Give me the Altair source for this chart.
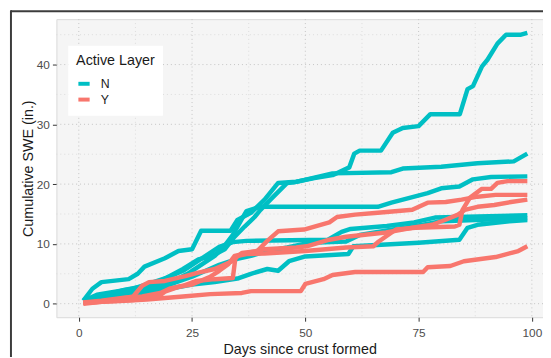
import altair as alt
import pandas as pd

# ---- data (days since crust formed, cumulative SWE) ----
t1_days = [1, 3, 5, 11, 13, 14.5, 19, 22, 25, 27, 33.5, 35, 38, 41, 44, 48, 52, 56, 59.7, 60.8, 62, 66.7, 69.3, 71.5, 75, 77.6, 84.1, 85.8, 87, 89, 90.2, 92.4, 94.3, 97.6, 99]
t1_vals = [0.5, 2.5, 3.6, 4.1, 5.0, 6.2, 7.6, 8.8, 9.1, 12.2, 12.2, 14.0, 15.2, 17.4, 20.2, 20.4, 21.0, 21.5, 22.8, 25.1, 25.6, 25.6, 28.6, 29.4, 29.7, 31.7, 31.7, 35.9, 36.4, 39.7, 40.8, 43.5, 45.0, 45.0, 45.3]

t2_days = [1, 5, 10, 15, 18, 20, 23, 26.4, 29.2, 32.2, 34.4, 36.6, 38.8, 40.1, 42.3, 44.4, 46, 47.5, 56, 69, 71.5, 80, 88, 96, 99]
t2_vals = [0.3, 1.2, 2.3, 3.0, 3.8, 4.6, 5.8, 7.4, 7.9, 9.1, 11.2, 12.9, 14.5, 15.7, 17.4, 19.0, 20.2, 20.3, 21.8, 22.0, 22.6, 22.9, 23.5, 23.8, 25.1]

t3_days = [1, 5, 10, 15, 20, 24, 27, 30, 32, 34, 35.5, 37, 40, 66, 69, 73, 77, 80, 84, 87, 91, 99]
t3_vals = [0.3, 1.0, 1.8, 2.5, 3.5, 5.0, 6.5, 8.0, 9.5, 11.5, 13.5, 15.5, 16.2, 16.2, 16.9, 17.7, 18.5, 19.3, 19.6, 20.8, 21.2, 21.3]

t4_days = [1, 4, 8, 12, 16, 20, 23, 26, 29, 31, 34, 37, 55, 58, 60, 68, 74, 78.6, 99]
t4_vals = [0.5, 1.5, 2.0, 2.5, 3.5, 4.5, 5.5, 7.0, 8.5, 9.5, 10.3, 10.5, 10.7, 12.0, 12.5, 13.0, 13.6, 14.4, 14.8]

t5_days = [1, 5, 10, 15, 20, 25, 28, 31, 35, 38, 41.6, 46, 51, 59, 62, 70, 76, 80, 99]
t5_vals = [0.3, 0.8, 1.5, 2.2, 3.2, 4.5, 5.5, 6.5, 7.5, 8.0, 8.8, 9.4, 10.2, 10.4, 11.5, 12.5, 13.2, 13.8, 14.3]

t6_days = [1, 5, 10, 15, 20, 25, 30, 35, 38, 41.6, 44, 46.4, 50, 59.5, 60.6, 75, 84, 85.8, 88, 95, 99]
t6_vals = [0.2, 0.6, 1.0, 1.8, 2.5, 3.2, 3.6, 4.2, 5.0, 5.8, 5.5, 7.1, 7.9, 8.3, 9.6, 10.2, 10.7, 12.7, 13.2, 13.8, 14.0]

s1_days = [1, 8, 15, 23, 29, 36, 38, 49, 50, 54, 56, 61, 76, 77, 82, 85, 92, 97, 99]
s1_vals = [0.2, 0.4, 0.7, 1.2, 1.6, 1.8, 2.1, 2.1, 3.3, 4.1, 4.8, 5.3, 5.3, 6.1, 6.3, 7.1, 7.8, 8.8, 9.6]

s2_days = [1, 5, 10, 14, 18, 20, 23, 26, 30, 34, 34.6, 37, 41, 50, 59, 65, 66.2, 70, 74.3, 83, 84, 84.7, 86.3, 88.9, 91, 92.4, 94.6, 99]
s2_vals = [0.2, 0.5, 1.0, 1.2, 1.8, 2.5, 3.0, 3.8, 4.1, 4.3, 7.9, 8.3, 8.4, 8.8, 9.4, 9.6, 10.4, 12.4, 12.7, 12.9, 13.2, 15.7, 17.7, 19.2, 19.2, 20.2, 20.5, 20.5]

s3_days = [1, 7, 12, 14, 15.5, 19, 23.5, 26.4, 30, 33.6, 36, 39.4, 41.6, 44, 49.7, 55.3, 57, 61, 66, 73.6, 77, 81, 84.5, 88, 92, 99]
s3_vals = [0.0, 0.5, 1.2, 3.0, 3.6, 3.8, 4.6, 5.2, 5.8, 7.0, 8.5, 8.8, 10.5, 12.1, 12.4, 13.6, 14.5, 14.9, 15.2, 15.7, 16.9, 17.0, 17.4, 17.9, 18.2, 18.2]

s4_days = [1, 6, 12, 17.6, 19, 22, 25, 29, 31, 33, 34.4, 38, 41, 48, 50.3, 55.3, 59, 67.8, 73.6, 78, 80.8, 83.7, 85.2, 88, 91.7, 95.4, 99]
s4_vals = [0.1, 0.4, 0.6, 1.2, 2.0, 2.8, 3.2, 4.5, 5.5, 6.6, 8.0, 8.6, 9.1, 9.4, 9.6, 10.7, 11.2, 11.9, 12.7, 13.2, 14.0, 14.9, 15.7, 16.2, 16.5, 17.0, 17.4]

series = [
    ("T1", "N", t1_days, t1_vals), ("T2", "N", t2_days, t2_vals),
    ("T3", "N", t3_days, t3_vals), ("T4", "N", t4_days, t4_vals),
    ("T5", "N", t5_days, t5_vals), ("T6", "N", t6_days, t6_vals),
    ("S1", "Y", s1_days, s1_vals), ("S2", "Y", s2_days, s2_vals),
    ("S3", "Y", s3_days, s3_vals), ("S4", "Y", s4_days, s4_vals),
]

layer_levels = ["N", "Y"]
layer_colors = ["#00BFC4", "#F8766D"]

x_ticks = [0, 25, 50, 75, 100]
x_minor = [12.5, 37.5, 62.5, 87.5]
y_ticks = [0, 10, 20, 30, 40]
y_minor = [5, 15, 25, 35, 45]

rows = []
for sid, lay, ds, vs in series:
    for i, (d, v) in enumerate(zip(ds, vs)):
        rows.append({"id": sid, "layer": lay, "day": d, "swe": v, "o": i})
df = pd.DataFrame(rows)

FONT = "Liberation Sans, Arial, sans-serif"
W, H = 493, 302
xdom = [-4.95, -4.95 + W / 4.59]
ydom = [-2.27, 47.6]
xs = alt.Scale(domain=xdom, nice=False, zero=False)
ys = alt.Scale(domain=ydom, nice=False, zero=False)

xaxis = alt.Axis(values=x_ticks, title="Days since crust formed", grid=False, domain=False,
                 tickColor="#333333", tickSize=4, labelPadding=7, labelFontSize=12,
                 labelColor="#4D4D4D", labelFont=FONT, titleFont=FONT, titleFontSize=14.5,
                 titleFontWeight="normal", titleColor="#1A1A1A", titlePadding=4)
yaxis = alt.Axis(values=y_ticks, title="Cumulative SWE (in.)", grid=False, domain=False,
                 tickColor="#333333", tickSize=4, labelPadding=3, labelFontSize=12,
                 labelColor="#4D4D4D", labelFont=FONT, titleFont=FONT, titleFontSize=14.5,
                 titleFontWeight="normal", titleColor="#1A1A1A", titlePadding=1)


def vgrid(vals, color):
    return alt.Chart(pd.DataFrame({"day": vals})).mark_rule(
        color=color, strokeDash=[1, 3], strokeWidth=1
    ).encode(x=alt.X("day:Q", scale=xs, axis=xaxis))


def hgrid(vals, color):
    return alt.Chart(pd.DataFrame({"swe": vals})).mark_rule(
        color=color, strokeDash=[1, 3], strokeWidth=1
    ).encode(y=alt.Y("swe:Q", scale=ys, axis=yaxis))


lines = alt.Chart(df).mark_line(strokeWidth=4.5, strokeJoin="round").encode(
    x=alt.X("day:Q", scale=xs, axis=xaxis),
    y=alt.Y("swe:Q", scale=ys, axis=yaxis),
    color=alt.Color("layer:N", scale=alt.Scale(domain=layer_levels, range=layer_colors),
                    legend=alt.Legend(orient="none", legendX=12, legendY=27, title="Active Layer",
                                      titleFont=FONT, titleFontSize=14.5, titleFontWeight="normal",
                                      titleColor="#1A1A1A", labelFont=FONT, labelFontSize=12.5,
                                      labelColor="#1A1A1A", symbolType="stroke", symbolStrokeWidth=4,
                                      symbolSize=130, fillColor="white", padding=8, rowPadding=0,
                                      labelOffset=9, titlePadding=8)),
    detail="id:N",
    order="o:Q",
)

dummy = pd.DataFrame({"a": [0]})
frame_top = alt.Chart(dummy).mark_rule(color="#3C3C3C", strokeWidth=2).encode(
    x=alt.value(-46), x2=alt.value(W + 10), y=alt.value(-8))
frame_left = alt.Chart(dummy).mark_rule(color="#3C3C3C", strokeWidth=2).encode(
    x=alt.value(-46), y=alt.value(-9), y2=alt.value(H + 60))

chart = alt.layer(
    vgrid(x_minor, "#DCDCDC"), hgrid(y_minor, "#DCDCDC"),
    vgrid(x_ticks, "#C4C4C4"), hgrid(y_ticks, "#C4C4C4"),
    lines, frame_top, frame_left
).properties(
    width=W, height=H,
    autosize=alt.AutoSizeParams(type="none"),
    padding={"left": 49, "top": 9, "right": 0, "bottom": 38},
    background="white",
).configure_view(fill="#F5F5F5", stroke="#D9D9D9")

chart.save("out.html", embed_options={"renderer": "svg", "actions": False})
